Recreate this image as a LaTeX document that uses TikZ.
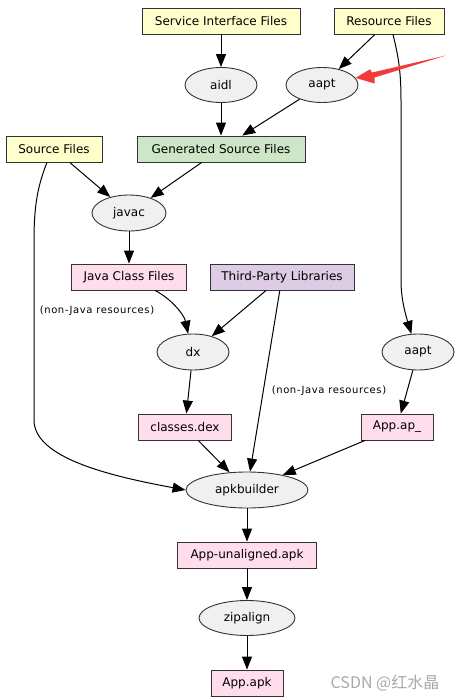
\documentclass[tikz,border=0pt]{standalone}
\usepackage{fontspec}
\setmainfont{DejaVu Sans}
\newfontfamily\etiqfont[LetterSpace=6]{DejaVu Sans}
\newfontfamily\cjkfont{Noto Sans CJK SC}
\usetikzlibrary{shapes.geometric,arrows.meta}
\definecolor{amarillo}{HTML}{FFFFCC}
\definecolor{rosa}{HTML}{FFDDEC}
\definecolor{verde}{HTML}{CDE6C7}
\definecolor{lila}{HTML}{DDCCE4}
\definecolor{gris}{HTML}{F0F0F0}
\definecolor{borde}{HTML}{333333}
\definecolor{rojo}{HTML}{F23C3C}
\definecolor{marca}{HTML}{A8A8A8}

\begin{document}
\begin{tikzpicture}[x=1pt, y=-1pt,
  font=\fontsize{12}{14}\selectfont,
  archivo/.style={draw=borde, line width=0.9pt, minimum height=26pt, inner sep=0pt},
  herram/.style={ellipse, draw=borde, fill=gris, line width=0.9pt, minimum width=72pt, minimum height=35pt, inner sep=0pt},
  flecha/.style={-{Triangle[length=13pt,width=10pt]}, line width=1pt},
  etiq/.style={font=\etiqfont\fontsize{10}{12}\selectfont}]
  \useasboundingbox (0,0) rectangle (459,699);
  % fuentes
  \node[archivo, fill=amarillo, minimum width=158pt] (sif) at (221,21) {Service Interface Files};
  \node[archivo, fill=amarillo, minimum width=110pt] (res) at (389,21) {Resource Files};
  \node[archivo, fill=amarillo, minimum width=96pt] (src) at (54,149) {Source Files};
  \node[archivo, fill=verde, minimum width=168pt] (gen) at (221,149) {Generated Source Files};
  \node[archivo, fill=rosa, minimum width=115pt] (jcf) at (129,277) {Java Class Files};
  \node[archivo, fill=lila, minimum width=144pt] (tpl) at (282,277) {Third-Party Libraries};
  \node[archivo, fill=rosa, minimum width=93pt] (dex) at (185,427) {classes.dex};
  \node[archivo, fill=rosa, minimum width=72pt] (apap) at (397,427) {App.ap\_};
  \node[archivo, fill=rosa, minimum width=139pt] (unal) at (247,555) {App-unaligned.apk};
  \node[archivo, fill=rosa, minimum width=72pt] (apk) at (247,683) {App.apk};
  % herramientas
  \node[herram] (aidl) at (221,85) {aidl};
  \node[herram] (aaptA) at (322,85) {aapt};
  \node[herram, minimum width=74pt, minimum height=36pt] (javac) at (129,213) {javac};
  \node[herram, minimum height=36pt] (dx) at (193,352) {dx};
  \node[herram, minimum height=36pt] (aaptB) at (418,352) {aapt};
  \node[herram, minimum width=122pt, minimum height=36pt] (apkb) at (247,490) {apkbuilder};
  \node[herram, minimum width=96pt] (zipa) at (247,618) {zipalign};
  % conexiones
  \draw[flecha] (sif) -- (aidl);
  \draw[flecha] (res) -- (aaptA);
  \draw[flecha] (aidl) -- (gen);
  \draw[flecha] (aaptA) -- (gen);
  \draw[flecha] (src) -- (javac);
  \draw[flecha] (gen) -- (javac);
  \draw[flecha] (javac) -- (jcf);
  \draw[flecha] ([xshift=26pt]jcf.south) .. controls (170,298) and (184,314) .. (dx.105);
  \draw[flecha] (tpl) -- (dx);
  \draw[flecha] (tpl) -- (apkb);
  \draw[flecha] ([xshift=4pt]res.south) .. controls (398,55) and (401,70) .. (401,100)
    -- (401,280) .. controls (401,300) and (406,316) .. (aaptB.110);
  \draw[flecha] ([xshift=-7pt]src.south) .. controls (38,185) and (34,205) .. (34,240)
    -- (34,420) .. controls (34,458) and (110,476) .. (apkb.west);
  \draw[flecha] (dx) -- (dex);
  \draw[flecha] (aaptB) -- (apap);
  \draw[flecha] (dex) -- (apkb);
  \draw[flecha] (apap) -- (apkb);
  \draw[flecha] (apkb) -- (unal);
  \draw[flecha] (unal) -- (zipa);
  \draw[flecha] (zipa) -- (apk);
  % etiquetas
  \node[etiq] (lblA) at (97,311) {(non-Java resources)};
  \node[etiq] (lblB) at (329,391) {(non-Java resources)};
  % flecha roja
  \fill[rojo] (aaptA.12) -- (370,69.3) -- (372,72.5) -- (446,55.5) -- (374.5,77.5) -- (374.5,83.5) -- cycle;
  \node[text=marca, font=\cjkfont\fontsize{16}{18}\selectfont] (marca) at (385,683) {CSDN @红水晶};
\end{tikzpicture}
\end{document}
